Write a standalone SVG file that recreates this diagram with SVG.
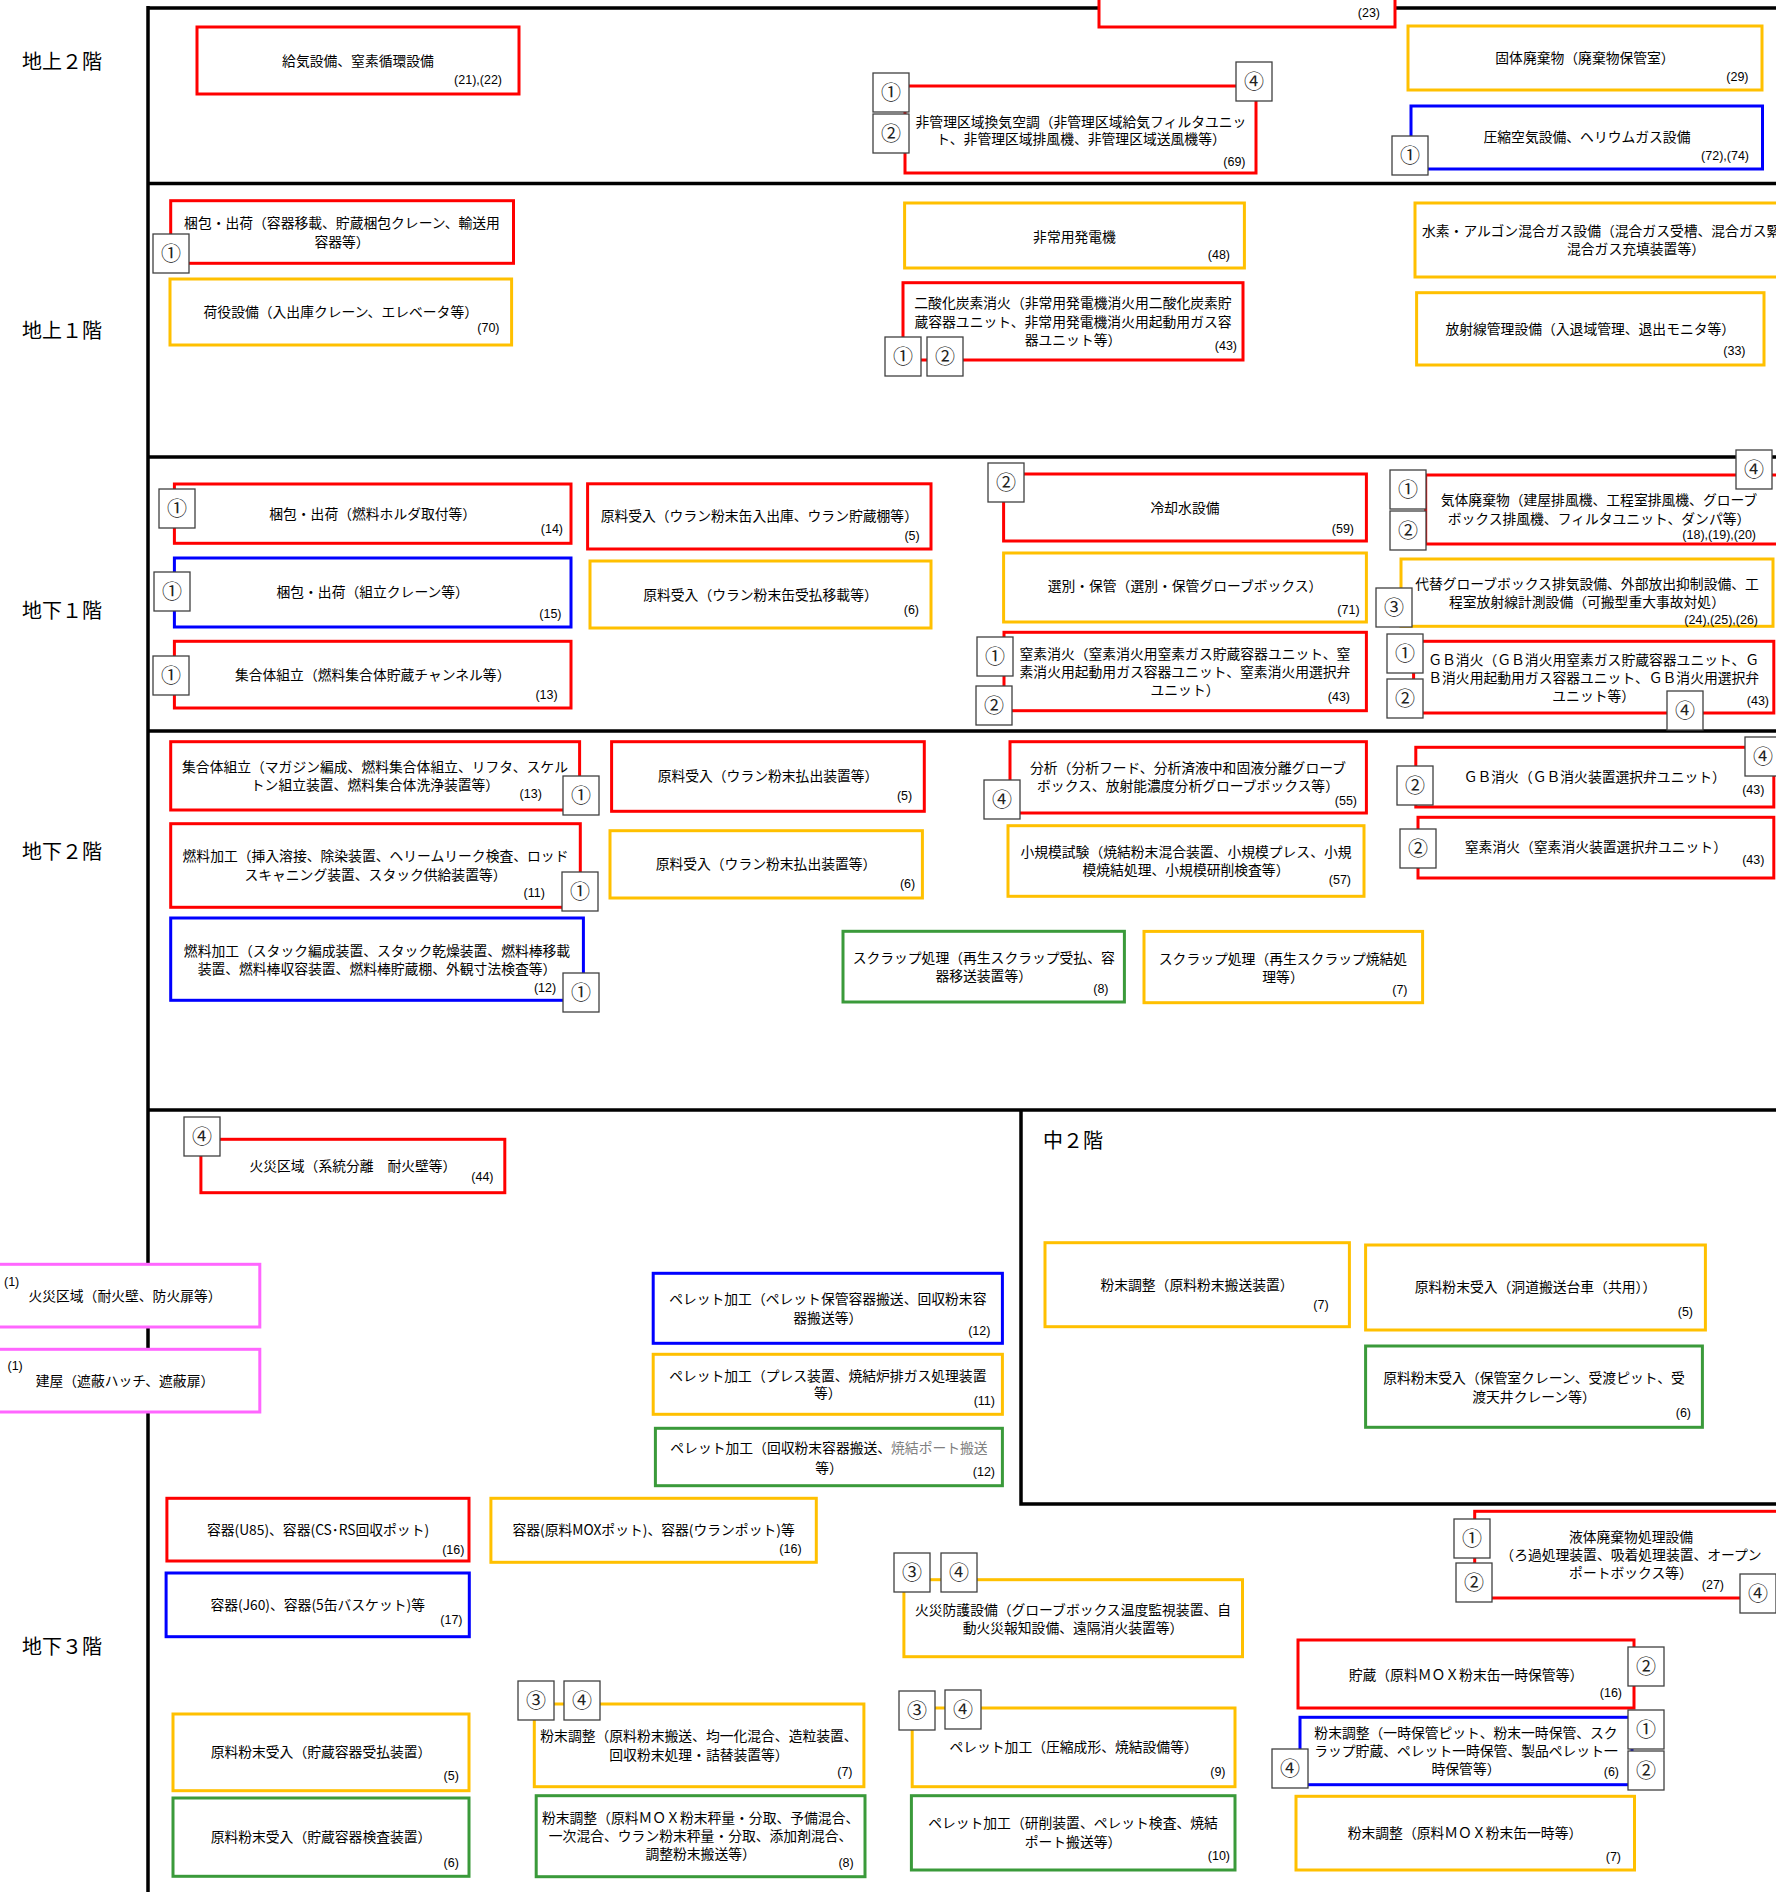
<svg xmlns="http://www.w3.org/2000/svg" width="1776" height="1892" viewBox="0 0 1776 1892">
<style>
.bg{fill:#fff}
.fl{fill:none;stroke:#000;stroke-width:3.5}
.r,.o,.b,.g,.p{fill:#fff;stroke-width:3}
.r{stroke:#ff0000}.o{stroke:#ffc000}.b{stroke:#0000ff}.g{stroke:#3a9a3a}.p{stroke:#ff66ff}
.t{font-family:"Noto Sans CJK JP","Noto Sans CJK SC",sans-serif;font-size:13.8px;text-anchor:middle;fill:#000}
.ts{font-family:"Noto Sans CJK JP",sans-serif;font-size:13.8px;text-anchor:start;fill:#000}
.n{font-family:"Liberation Sans",Arial,sans-serif;font-size:12.5px;text-anchor:end;fill:#000}
.ns{font-family:"Liberation Sans",Arial,sans-serif;font-size:12.5px;text-anchor:start;fill:#000}
.bx{fill:#fff;stroke:#404040;stroke-width:1.3}
.bt{font-family:"Noto Sans CJK JP",sans-serif;font-size:20px;text-anchor:middle;fill:#222}
.lb{font-family:"Noto Sans CJK JP",sans-serif;font-size:20px;fill:#000}
.gy{fill:#808080}
</style>
<rect class="bg" x="0" y="0" width="1776" height="1892"/>
<g id="floors">
<path class="fl" d="M148,8 H1776 M148,183.5 H1776 M148,457 H1776 M148,731 H1776 M148,1110 H1776 M148,6 V1892 M1021,1110 V1504 H1776"/>
</g>
<g id="labels">
<text class="lb" x="22" y="69">地上２階</text>
<text class="lb" x="22" y="338">地上１階</text>
<text class="lb" x="22" y="618">地下１階</text>
<text class="lb" x="22" y="859">地下２階</text>
<text class="lb" x="22" y="1654">地下３階</text>
<text class="lb" x="1043" y="1148">中２階</text>
</g>
<g id="connectors"></g>

<g id="n01"><rect class="r" x="197" y="27" width="322" height="67"/><text class="t" x="358" y="66">給気設備、窒素循環設備</text><text class="n" x="502" y="83.5">(21),(22)</text></g>
<g id="n02"><rect class="r" x="1099" y="-10" width="296" height="37"/><text class="n" x="1380" y="16.5">(23)</text></g>
<g id="n03"><rect class="r" x="905" y="86" width="351" height="87"/><text class="t" x="1081" y="126.7">非管理区域換気空調（非管理区域給気フィルタユニッ</text><text class="t" x="1081" y="144.3">ト、非管理区域排風機、非管理区域送風機等）</text><text class="n" x="1245.5" y="166">(69)</text>
<rect class="bx" x="873" y="73" width="36" height="39"/><text class="bt" x="891" y="99.5">①</text>
<rect class="bx" x="873" y="114" width="36" height="39"/><text class="bt" x="891" y="140.5">②</text>
<rect class="bx" x="1236" y="62" width="36" height="39"/><text class="bt" x="1254" y="88.5">④</text></g>
<g id="n04"><rect class="o" x="1408" y="26" width="354" height="64"/><text class="t" x="1585" y="63.3">固体廃棄物（廃棄物保管室）</text><text class="n" x="1748.5" y="80.5">(29)</text></g>
<g id="n05"><rect class="b" x="1411" y="106" width="351.5" height="63"/><text class="t" x="1587" y="142.3">圧縮空気設備、ヘリウムガス設備</text><text class="n" x="1749" y="159.5">(72),(74)</text>
<rect class="bx" x="1392" y="136" width="36" height="39"/><text class="bt" x="1410" y="162.5">①</text></g>

<g id="n06"><rect class="r" x="170.7" y="200.7" width="342.8" height="62.6"/><text class="t" x="342" y="228.3">梱包・出荷（容器移載、貯蔵梱包クレーン、輸送用</text><text class="t" x="342" y="246.7">容器等）</text>
<rect class="bx" x="153" y="234" width="36" height="39"/><text class="bt" x="171" y="260.5">①</text></g>
<g id="n07"><rect class="o" x="170" y="279" width="341.6" height="66"/><text class="t" x="340.8" y="317.3">荷役設備（入出庫クレーン、エレベータ等）</text><text class="n" x="499.5" y="331.5">(70)</text></g>
<g id="n08"><rect class="o" x="904.6" y="203" width="339.8" height="65"/><text class="t" x="1074.5" y="241.7">非常用発電機</text><text class="n" x="1230" y="258.5">(48)</text></g>
<g id="n09"><rect class="r" x="903" y="282.7" width="340" height="77.3"/><text class="t" x="1073" y="308.3">二酸化炭素消火（非常用発電機消火用二酸化炭素貯</text><text class="t" x="1073" y="326.7">蔵容器ユニット、非常用発電機消火用起動用ガス容</text><text class="t" x="1073" y="345">器ユニット等）</text><text class="n" x="1237" y="350.2">(43)</text>
<rect class="bx" x="885" y="337" width="36" height="39"/><text class="bt" x="903" y="363.5">①</text>
<rect class="bx" x="927" y="337" width="36" height="39"/><text class="bt" x="945" y="363.5">②</text></g>
<g id="n10"><rect class="o" x="1415" y="203" width="420" height="74"/><text class="ts" x="1422" y="235.7">水素・アルゴン混合ガス設備（混合ガス受槽、混合ガス緊</text><text class="t" x="1636" y="254.3">混合ガス充填装置等）</text></g>
<g id="n11"><rect class="o" x="1416.6" y="292.7" width="347.4" height="72.3"/><text class="t" x="1590.3" y="334">放射線管理設備（入退域管理、退出モニタ等）</text><text class="n" x="1745.5" y="354.5">(33)</text></g>

<g id="n12"><rect class="r" x="174.4" y="484" width="396.6" height="59.3"/><text class="t" x="372.7" y="518.7">梱包・出荷（燃料ホルダ取付等）</text><text class="n" x="563" y="532.5">(14)</text>
<rect class="bx" x="159" y="489" width="36" height="39"/><text class="bt" x="177" y="515.5">①</text></g>
<g id="n13"><rect class="b" x="174.4" y="558" width="396.6" height="69"/><text class="t" x="372.7" y="597">梱包・出荷（組立クレーン等）</text><text class="n" x="561.5" y="617.5">(15)</text>
<rect class="bx" x="154" y="572" width="36" height="39"/><text class="bt" x="172" y="598.5">①</text></g>
<g id="n14"><rect class="r" x="174.4" y="641.3" width="396.6" height="66.7"/><text class="t" x="372.7" y="679.7">集合体組立（燃料集合体貯蔵チャンネル等）</text><text class="n" x="557.7" y="699.2">(13)</text>
<rect class="bx" x="153" y="656" width="36" height="39"/><text class="bt" x="171" y="682.5">①</text></g>
<g id="n15"><rect class="r" x="587.6" y="483.8" width="343.4" height="65.2"/><text class="t" x="759.3" y="520.7">原料受入（ウラン粉末缶入出庫、ウラン貯蔵棚等）</text><text class="n" x="919.7" y="540.2">(5)</text></g>
<g id="n16"><rect class="o" x="590" y="561" width="341" height="67"/><text class="t" x="760.5" y="600.3">原料受入（ウラン粉末缶受払移載等）</text><text class="n" x="919" y="614.2">(6)</text></g>
<g id="n17"><rect class="r" x="1003.6" y="474" width="362.8" height="67"/><text class="t" x="1185" y="513">冷却水設備</text><text class="n" x="1354" y="532.5">(59)</text>
<rect class="bx" x="988" y="463" width="36" height="39"/><text class="bt" x="1006" y="489.5">②</text></g>
<g id="n18"><rect class="o" x="1003.6" y="553" width="362.8" height="69"/><text class="t" x="1185" y="591.4">選別・保管（選別・保管グローブボックス）</text><text class="n" x="1359.6" y="614.2">(71)</text></g>
<g id="n19"><rect class="r" x="1004" y="632.3" width="362.4" height="78.4"/><text class="t" x="1185" y="659">窒素消火（窒素消火用窒素ガス貯蔵容器ユニット、窒</text><text class="t" x="1185" y="677.3">素消火用起動用ガス容器ユニット、窒素消火用選択弁</text><text class="t" x="1185" y="694.7">ユニット）</text><text class="n" x="1350" y="700.8">(43)</text>
<rect class="bx" x="977" y="637" width="36" height="39"/><text class="bt" x="995" y="663.5">①</text>
<rect class="bx" x="976" y="686" width="36" height="39"/><text class="bt" x="994" y="712.5">②</text></g>
<g id="n20"><rect class="r" x="1425.7" y="475" width="370" height="69"/><text class="t" x="1599" y="504.7">気体廃棄物（建屋排風機、工程室排風機、グローブ</text><text class="t" x="1599" y="523.7">ボックス排風機、フィルタユニット、ダンパ等）</text><text class="n" x="1756" y="538.5">(18),(19),(20)</text>
<rect class="bx" x="1390" y="470" width="36" height="39"/><text class="bt" x="1408" y="496.5">①</text>
<rect class="bx" x="1390" y="511" width="36" height="39"/><text class="bt" x="1408" y="537.5">②</text>
<rect class="bx" x="1736" y="450" width="36" height="39"/><text class="bt" x="1754" y="476.5">④</text></g>
<g id="n21"><rect class="o" x="1401" y="559" width="372" height="67.3"/><text class="t" x="1587" y="588.7">代替グローブボックス排気設備、外部放出抑制設備、工</text><text class="t" x="1587" y="607">程室放射線計測設備（可搬型重大事故対処）</text><text class="n" x="1758" y="624.2">(24),(25),(26)</text>
<rect class="bx" x="1376" y="588" width="36" height="39"/><text class="bt" x="1394" y="614.5">③</text></g>
<g id="n22"><rect class="r" x="1413.6" y="641.3" width="360.2" height="71.7"/><text class="t" x="1593.7" y="664.7">ＧＢ消火（ＧＢ消火用窒素ガス貯蔵容器ユニット、Ｇ</text><text class="t" x="1593.7" y="682.7">Ｂ消火用起動用ガス容器ユニット、ＧＢ消火用選択弁</text><text class="t" x="1593.7" y="700.7">ユニット等）</text><text class="n" x="1769" y="705.2">(43)</text>
<rect class="bx" x="1387" y="634" width="36" height="39"/><text class="bt" x="1405" y="660.5">①</text>
<rect class="bx" x="1387" y="679" width="36" height="39"/><text class="bt" x="1405" y="705.5">②</text>
<rect class="bx" x="1667" y="691" width="36" height="39"/><text class="bt" x="1685" y="717.5">④</text></g>

<g id="n23"><rect class="r" x="170.7" y="741.7" width="408.9" height="68.3"/><text class="t" x="375" y="772">集合体組立（マガジン編成、燃料集合体組立、リフタ、スケル</text><text class="t" x="375" y="790.3">トン組立装置、燃料集合体洗浄装置等）</text><text class="n" x="541.8" y="798.2">(13)</text>
<rect class="bx" x="563" y="776" width="36" height="39"/><text class="bt" x="581" y="802.5">①</text></g>
<g id="n24"><rect class="r" x="170.7" y="823.7" width="409.6" height="83.6"/><text class="t" x="375.5" y="861.3">燃料加工（挿入溶接、除染装置、ヘリームリーク検査、ロッド</text><text class="t" x="375.5" y="879.7">スキャニング装置、スタック供給装置等）</text><text class="n" x="544.9" y="896.5">(11)</text>
<rect class="bx" x="562" y="872" width="36" height="39"/><text class="bt" x="580" y="898.5">①</text></g>
<g id="n25"><rect class="b" x="170.7" y="918" width="412.7" height="82.3"/><text class="t" x="377" y="956">燃料加工（スタック編成装置、スタック乾燥装置、燃料棒移載</text><text class="t" x="377" y="973.7">装置、燃料棒収容装置、燃料棒貯蔵棚、外観寸法検査等）</text><text class="n" x="556.2" y="992.2">(12)</text>
<rect class="bx" x="563" y="973" width="36" height="39"/><text class="bt" x="581" y="999.5">①</text></g>
<g id="n26"><rect class="r" x="611.6" y="741.7" width="312.7" height="69.6"/><text class="t" x="768" y="781.3">原料受入（ウラン粉末払出装置等）</text><text class="n" x="912.2" y="799.8">(5)</text></g>
<g id="n27"><rect class="o" x="610" y="830.7" width="312.4" height="67.3"/><text class="t" x="766" y="869">原料受入（ウラン粉末払出装置等）</text><text class="n" x="915.2" y="887.5">(6)</text></g>
<g id="n28"><rect class="r" x="1010" y="741.7" width="356.4" height="71.3"/><text class="t" x="1188" y="773">分析（分析フード、分析済液中和固液分離グローブ</text><text class="t" x="1188" y="791.3">ボックス、放射能濃度分析グローブボックス等）</text><text class="n" x="1357" y="804.8">(55)</text>
<rect class="bx" x="984" y="780" width="36" height="39"/><text class="bt" x="1002" y="806.5">④</text></g>
<g id="n29"><rect class="o" x="1008" y="825.7" width="356" height="70.6"/><text class="t" x="1186" y="857">小規模試験（焼結粉末混合装置、小規模プレス、小規</text><text class="t" x="1186" y="874.7">模焼結処理、小規模研削検査等）</text><text class="n" x="1351" y="884.2">(57)</text></g>
<g id="n30"><rect class="r" x="1415.8" y="747.3" width="358" height="59.7"/><text class="t" x="1594.8" y="782">ＧＢ消火（ＧＢ消火装置選択弁ユニット）</text><text class="n" x="1764.4" y="793.5">(43)</text>
<rect class="bx" x="1397" y="766" width="36" height="39"/><text class="bt" x="1415" y="792.5">②</text>
<rect class="bx" x="1745" y="737" width="36" height="39"/><text class="bt" x="1763" y="763.5">④</text></g>
<g id="n31"><rect class="r" x="1418" y="817.3" width="355.8" height="60.7"/><text class="t" x="1595.9" y="852.3">窒素消火（窒素消火装置選択弁ユニット）</text><text class="n" x="1764.4" y="864.2">(43)</text>
<rect class="bx" x="1400" y="829" width="36" height="39"/><text class="bt" x="1418" y="855.5">②</text></g>
<g id="n32"><rect class="g" x="843" y="931.3" width="281.4" height="70.7"/><text class="t" x="983.7" y="962.7">スクラップ処理（再生スクラップ受払、容</text><text class="t" x="983.7" y="981">器移送装置等）</text><text class="n" x="1108.5" y="993.2">(8)</text></g>
<g id="n33"><rect class="o" x="1144" y="931.4" width="278.6" height="71.3"/><text class="t" x="1283" y="963.7">スクラップ処理（再生スクラップ焼結処</text><text class="t" x="1283" y="981.7">理等）</text><text class="n" x="1407.5" y="993.8">(7)</text></g>

<g id="n34"><rect class="r" x="200.9" y="1139.3" width="303.9" height="53.4"/><text class="t" x="352.9" y="1171">火災区域（系統分離　耐火壁等）</text><text class="n" x="493.5" y="1180.5">(44)</text>
<rect class="bx" x="184" y="1117" width="36" height="39"/><text class="bt" x="202" y="1143.5">④</text></g>
<g id="n35"><rect class="p" x="-5" y="1264.3" width="264.8" height="62.7"/><text class="ns" x="4" y="1286">(1)</text><text class="t" x="125" y="1301">火災区域（耐火壁、防火扉等）</text></g>
<g id="n36"><rect class="p" x="-5" y="1349.3" width="264.8" height="62.7"/><text class="ns" x="7.5" y="1369.8">(1)</text><text class="t" x="125" y="1386">建屋（遮蔽ハッチ、遮蔽扉）</text></g>
<g id="n37"><rect class="b" x="653.2" y="1273.3" width="349.2" height="70"/><text class="t" x="827.8" y="1304.3">ペレット加工（ペレット保管容器搬送、回収粉末容</text><text class="t" x="827.8" y="1322.7">器搬送等）</text><text class="n" x="990.4" y="1334.5">(12)</text></g>
<g id="n38"><rect class="o" x="653.2" y="1354.3" width="349.2" height="60"/><text class="t" x="827.8" y="1381">ペレット加工（プレス装置、焼結炉排ガス処理装置</text><text class="t" x="827.8" y="1398.3">等）</text><text class="n" x="995" y="1404.5">(11)</text></g>
<g id="n39"><rect class="g" x="655.4" y="1428.3" width="347" height="57.4"/><text class="t" x="829" y="1453.3">ペレット加工（回収粉末容器搬送、<tspan class="gy">焼結ポート搬送</tspan></text><text class="t" x="829" y="1473.3">等）</text><text class="n" x="995" y="1475.8">(12)</text></g>
<g id="n40"><rect class="r" x="166.9" y="1498.3" width="302.1" height="62.7"/><text class="t" x="318" y="1534.7">容器(U85)、容器(CS･RS回収ポット)</text><text class="n" x="464.4" y="1553.5">(16)</text></g>
<g id="n41"><rect class="o" x="490.9" y="1498.3" width="325.4" height="64"/><text class="t" x="653.6" y="1535">容器(原料MOXポット)、容器(ウランポット)等</text><text class="n" x="801.6" y="1552.8">(16)</text></g>
<g id="n42"><rect class="b" x="166.1" y="1573" width="303.2" height="63.7"/><text class="t" x="317.7" y="1609.7">容器(J60)、容器(5缶バスケット)等</text><text class="n" x="462.5" y="1623.5">(17)</text></g>
<g id="n43"><rect class="o" x="173" y="1714" width="296" height="76.7"/><text class="t" x="321" y="1757.3">原料粉末受入（貯蔵容器受払装置）</text><text class="n" x="458.8" y="1780.2">(5)</text></g>
<g id="n44"><rect class="g" x="173" y="1798" width="296" height="78.3"/><text class="t" x="321" y="1841.7">原料粉末受入（貯蔵容器検査装置）</text><text class="n" x="458.8" y="1866.8">(6)</text></g>
<g id="n45"><rect class="o" x="534.3" y="1704" width="329.6" height="82.7"/><text class="t" x="699" y="1741.3">粉末調整（原料粉末搬送、均一化混合、造粒装置、</text><text class="t" x="699" y="1759.7">回収粉末処理・詰替装置等）</text><text class="n" x="852.5" y="1775.8">(7)</text>
<rect class="bx" x="518" y="1681" width="36" height="39"/><text class="bt" x="536" y="1707.5">③</text>
<rect class="bx" x="564" y="1681" width="36" height="39"/><text class="bt" x="582" y="1707.5">④</text></g>
<g id="n46"><rect class="g" x="536.2" y="1795.7" width="328.8" height="81"/><text class="t" x="700.6" y="1823">粉末調整（原料ＭＯＸ粉末秤量・分取、予備混合、</text><text class="t" x="700.6" y="1840.7">一次混合、ウラン粉末秤量・分取、添加剤混合、</text><text class="t" x="700.6" y="1859">調整粉末搬送等）</text><text class="n" x="853.7" y="1866.8">(8)</text></g>
<g id="n47"><rect class="o" x="903.9" y="1579.7" width="338.6" height="77"/><text class="t" x="1073" y="1614.7">火災防護設備（グローブボックス温度監視装置、自</text><text class="t" x="1073" y="1633">動火災報知設備、遠隔消火装置等）</text>
<rect class="bx" x="894" y="1553" width="36" height="39"/><text class="bt" x="912" y="1579.5">③</text>
<rect class="bx" x="941" y="1553" width="36" height="39"/><text class="bt" x="959" y="1579.5">④</text></g>
<g id="n48"><rect class="o" x="912.2" y="1708" width="322.8" height="78.7"/><text class="t" x="1073.6" y="1752.3">ペレット加工（圧縮成形、焼結設備等）</text><text class="n" x="1225.5" y="1775.8">(9)</text>
<rect class="bx" x="899" y="1691" width="36" height="39"/><text class="bt" x="917" y="1717.5">③</text>
<rect class="bx" x="945" y="1690" width="36" height="39"/><text class="bt" x="963" y="1716.5">④</text></g>
<g id="n49"><rect class="g" x="911.4" y="1795.7" width="323.6" height="74.3"/><text class="t" x="1073" y="1828.3">ペレット加工（研削装置、ペレット検査、焼結</text><text class="t" x="1073" y="1846.7">ポート搬送等）</text><text class="n" x="1230" y="1860.2">(10)</text></g>
<g id="n50"><rect class="r" x="1474.7" y="1511.3" width="320" height="86.7"/><text class="t" x="1631" y="1541.7">液体廃棄物処理設備</text><text class="t" x="1631" y="1560">（ろ過処理装置、吸着処理装置、オープン</text><text class="t" x="1631" y="1578.3">ポートボックス等）</text><text class="n" x="1724" y="1589.2">(27)</text>
<rect class="bx" x="1454" y="1519" width="36" height="39"/><text class="bt" x="1472" y="1545.5">①</text>
<rect class="bx" x="1456" y="1563" width="36" height="39"/><text class="bt" x="1474" y="1589.5">②</text>
<rect class="bx" x="1740" y="1574" width="36" height="39"/><text class="bt" x="1758" y="1600.5">④</text></g>
<g id="n51"><rect class="r" x="1298" y="1640" width="336" height="68"/><text class="t" x="1466" y="1679.7">貯蔵（原料ＭＯＸ粉末缶一時保管等）</text><text class="n" x="1622" y="1696.8">(16)</text>
<rect class="bx" x="1628" y="1647" width="36" height="39"/><text class="bt" x="1646" y="1673.5">②</text></g>
<g id="n52"><rect class="b" x="1300" y="1717.3" width="332" height="67.4"/><text class="t" x="1466" y="1738">粉末調整（一時保管ピット、粉末一時保管、スク</text><text class="t" x="1466" y="1756.3">ラップ貯蔵、ペレット一時保管、製品ペレット一</text><text class="t" x="1466" y="1774">時保管等）</text><text class="n" x="1619" y="1775.8">(6)</text>
<rect class="bx" x="1628" y="1710" width="36" height="39"/><text class="bt" x="1646" y="1736.5">①</text>
<rect class="bx" x="1628" y="1751" width="36" height="39"/><text class="bt" x="1646" y="1777.5">②</text>
<rect class="bx" x="1272" y="1749" width="36" height="39"/><text class="bt" x="1290" y="1775.5">④</text></g>
<g id="n53"><rect class="o" x="1296" y="1796.3" width="338.5" height="73.7"/><text class="t" x="1465" y="1838.3">粉末調整（原料ＭＯＸ粉末缶一時等）</text><text class="n" x="1621" y="1860.8">(7)</text></g>
<g id="n54"><rect class="o" x="1045" y="1242.7" width="304.4" height="84"/><text class="t" x="1197" y="1290.3">粉末調整（原料粉末搬送装置）</text><text class="n" x="1328.6" y="1308.8">(7)</text></g>
<g id="n55"><rect class="o" x="1365.6" y="1245" width="339.8" height="85"/><text class="t" x="1535.5" y="1292">原料粉末受入（洞道搬送台車（共用））</text><text class="n" x="1693" y="1316.2">(5)</text></g>
<g id="n56"><rect class="g" x="1365.6" y="1346" width="336.8" height="81.3"/><text class="t" x="1534" y="1383.3">原料粉末受入（保管室クレーン、受渡ピット、受</text><text class="t" x="1534" y="1401.7">渡天井クレーン等）</text><text class="n" x="1691" y="1417.2">(6)</text></g>
</svg>
